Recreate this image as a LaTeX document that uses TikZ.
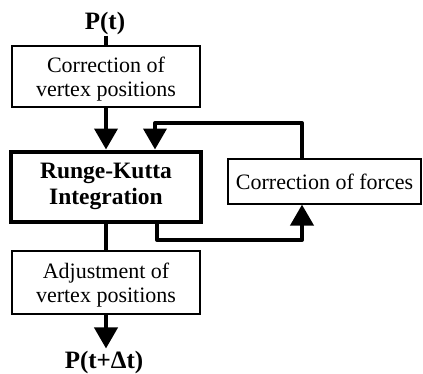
\documentclass[tikz,border=0pt]{standalone}
\usepackage{fontspec}
\setmainfont{Liberation Serif}
\usetikzlibrary{arrows.meta}
\begin{document}
\begin{tikzpicture}[x=1pt,y=-1pt,
  txt/.style={font=\fontsize{22}{24}\selectfont},
  bx/.style={draw,line width=1.2pt,align=center,inner sep=0pt,txt},
  conn/.style={line width=4pt,line join=round},
  tip/.style={-{Triangle[width=23pt,length=21pt]}},
  lbl/.style={font=\fontsize{25}{26}\selectfont\bfseries,inner sep=1pt}]
\useasboundingbox (0,0) rectangle (423,373);
\node[lbl] (pt) at (105,23) {P(t)};
\node[bx,text depth=0pt,minimum width=188pt,minimum height=61pt] (corr) at (106,76.5) {Correction of\\vertex positions};
\node[bx,line width=4pt,minimum width=190pt,minimum height=70pt,font=\fontsize{23.5}{26}\selectfont\bfseries] (rk) at (106,186.5) {Runge-Kutta\\Integration};
\node[bx,text depth=0pt,minimum width=188pt,minimum height=63pt] (adj) at (106,282.5) {Adjustment of\\vertex positions};
\node[bx,minimum width=193pt,minimum height=45pt] (forces) at (324.5,181.5) {Correction of forces};
\node[lbl,inner sep=2pt] (ptdt) at (104,362) {P(t+Δt)};
\coordinate (fbR) at (302,123);
\coordinate (fbL) at (155,123);
\coordinate (bL) at (157,240);
\coordinate (bR) at (302,240);
\draw[conn] (pt.south -| corr.north) -- (corr.north);
\draw[conn,tip] (corr.south) -- (rk.north);
\draw[conn] (rk.south) -- (adj.north);
\draw[conn,tip] (adj.south) -- (ptdt.north -| adj.south);
\draw[conn,tip] (forces.north -| fbR) -- (fbR) -- (fbL) -- (rk.north -| fbL);
\draw[conn,tip] (rk.south -| bL) -- (bL) -- (bR) -- (forces.south -| bR);
\end{tikzpicture}
\end{document}
